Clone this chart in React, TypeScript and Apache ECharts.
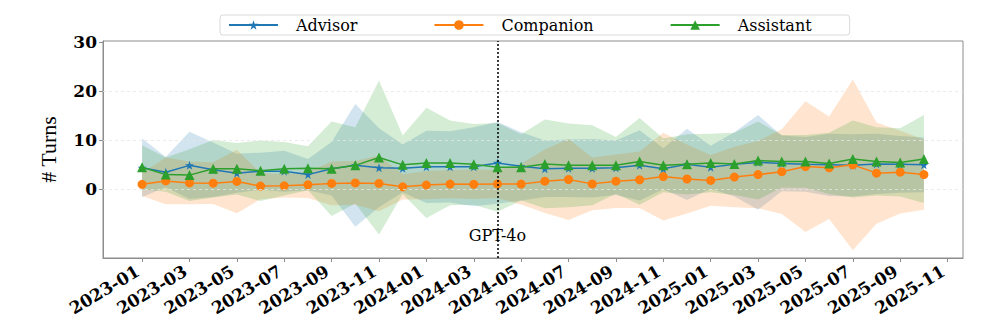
import React, { useEffect, useRef } from "react";
import * as echarts from "echarts";

// Monthly data points (index 0 = 2023-01 ... index 33 = 2025-10)
const months = [
  "2023-01", "2023-02", "2023-03", "2023-04", "2023-05", "2023-06", "2023-07", "2023-08", "2023-09", "2023-10", "2023-11", "2023-12",
  "2024-01", "2024-02", "2024-03", "2024-04", "2024-05", "2024-06", "2024-07", "2024-08", "2024-09", "2024-10", "2024-11", "2024-12",
  "2025-01", "2025-02", "2025-03", "2025-04", "2025-05", "2025-06", "2025-07", "2025-08", "2025-09", "2025-10",
];

const tickLabels = [
  "2023-01", "2023-03", "2023-05", "2023-07", "2023-09", "2023-11",
  "2024-01", "2024-03", "2024-05", "2024-07", "2024-09", "2024-11",
  "2025-01", "2025-03", "2025-05", "2025-07", "2025-09", "2025-11",
];

const yTicks = [0, 10, 20, 30];

const advisorMean = [4.3, 3.4, 4.8, 3.9, 3.2, 3.6, 3.6, 2.9, 4.1, 4.8, 4.3, 4.2, 4.5, 4.5, 4.5, 5.3, 4.6, 4.1, 4.2, 4.2, 4.3, 4.8, 4.1, 5.0, 4.4, 5.0, 5.4, 5.2, 5.0, 4.9, 4.8, 5.1, 5.0, 4.9];
const advisorStd = [6.0, 3.1, 6.9, 5.6, 4.0, 3.8, 4.2, 3.2, 5.5, 12.6, 8.1, 4.9, 7.4, 7.3, 8.1, 8.4, 7.0, 5.8, 5.9, 6.0, 5.6, 7.2, 4.2, 7.3, 4.4, 6.6, 9.7, 5.7, 5.6, 6.4, 6.4, 6.2, 5.8, 5.6];

const companionMean = [0.9, 1.6, 1.2, 1.15, 1.5, 0.55, 0.6, 0.8, 1.1, 1.2, 1.1, 0.4, 0.75, 0.95, 0.9, 1.0, 0.95, 1.55, 1.9, 1.0, 1.55, 1.85, 2.5, 2.0, 1.7, 2.4, 2.9, 3.5, 4.55, 4.3, 4.9, 3.2, 3.4, 2.9];
const companionStd = [2.4, 4.8, 4.4, 4.3, 6.5, 2.7, 2.4, 2.7, 4.5, 4.5, 5.7, 2.6, 2.9, 2.9, 3.0, 2.9, 4.2, 6.5, 8.3, 5.4, 5.5, 5.8, 9.0, 7.1, 5.2, 6.2, 6.9, 8.7, 13.4, 10.5, 17.5, 10.4, 8.5, 7.2];

const assistantMean = [4.4, 2.9, 2.8, 4.1, 4.1, 3.7, 4.1, 4.2, 4.1, 4.8, 6.4, 4.9, 5.3, 5.3, 5.0, 4.4, 4.4, 5.1, 4.8, 4.8, 4.8, 5.6, 4.8, 5.0, 5.3, 5.1, 5.8, 5.6, 5.6, 5.2, 6.1, 5.6, 5.4, 6.1];
const assistantStd = [4.5, 3.5, 5.3, 5.9, 5.3, 6.2, 5.5, 4.5, 9.7, 7.8, 15.8, 6.0, 11.3, 8.7, 8.3, 9.1, 6.8, 9.1, 8.6, 8.2, 5.8, 8.9, 5.5, 6.2, 6.0, 6.4, 8.0, 5.4, 5.4, 6.3, 7.9, 7.0, 7.0, 9.0];

const eventMonth = "2024-04";
const eventLabel = "GPT-4o";

const seriesDefs = [
  { name: "Advisor", mean: advisorMean, std: advisorStd, color: "#1f77b4", symbol: "path://M50,0 L61.8,35.4 L100,35.4 L69.1,57.3 L80.9,93.5 L50,71.5 L19.1,93.5 L30.9,57.3 L0,35.4 L38.2,35.4 Z", size: 9 },
  { name: "Companion", mean: companionMean, std: companionStd, color: "#ff7f0e", symbol: "circle", size: 9 },
  { name: "Assistant", mean: assistantMean, std: assistantStd, color: "#2ca02c", symbol: "triangle", size: 10 },
];

const FONT = "DejaVu Serif";

export default function App() {
  const ref = useRef<HTMLDivElement>(null);

  useEffect(() => {
    if (!ref.current) return;
    const chart = echarts.init(ref.current, null, { renderer: "svg" });

    const series: any[] = [];
    seriesDefs.forEach((s, k) => {
      const rows = s.mean.map((m, i) => [i, m - s.std[i], m + s.std[i]]);
      series.push({
        name: s.name + "_band",
        type: "custom",
        data: rows,
        encode: { x: 0, y: [1, 2] },
        silent: true,
        z: 1,
        renderItem: (params: any, api: any) => {
          if (params.dataIndex !== 0) return null;
          const top = rows.map((r) => api.coord([r[0], r[2]]));
          const bot = rows.map((r) => api.coord([r[0], r[1]])).reverse();
          return {
            type: "polygon",
            shape: { points: top.concat(bot) },
            style: { fill: s.color, opacity: 0.2 },
            silent: true,
          };
        },
        ...(k === 0
          ? {
              markLine: {
                silent: true,
                symbol: "none",
                label: { show: false },
                lineStyle: { type: [3, 3], color: "#e6e6e6", width: 0.8 },
                data: [{ yAxis: 0 }, { yAxis: 10 }, { yAxis: 20 }],
              },
            }
          : {}),
      });
    });

    seriesDefs.forEach((s, k) => {
      series.push({
        name: s.name,
        type: "line",
        data: s.mean.map((m, i) => [i, m]),
        symbol: s.symbol,
        symbolSize: s.size,
        showAllSymbol: true,
        lineStyle: { color: s.color, width: 1.5 },
        itemStyle: { color: s.color },
        z: 3 + k,
        ...(k === seriesDefs.length - 1
          ? {
              markLine: {
                silent: true,
                symbol: "none",
                label: { show: false },
                lineStyle: { type: [2, 2], color: "#000", width: 1.5 },
                data: [{ xAxis: months.indexOf(eventMonth) }],
              },
              markPoint: {
                silent: true,
                symbol: "circle",
                symbolSize: 0,
                label: {
                  show: true,
                  position: "inside",
                  formatter: eventLabel,
                  fontFamily: FONT,
                  fontSize: 16,
                  fontWeight: 500,
                  color: "#000",
                },
                data: [{ coord: [months.indexOf(eventMonth), -9.5] }],
              },
            }
          : {}),
      });
    });

    const tickIdx = tickLabels.map((t) => {
      const [y, m] = t.split("-").map(Number);
      return (y - 2023) * 12 + (m - 1);
    });

    chart.setOption({
      animation: false,
      backgroundColor: "#fff",
      grid: {
        left: 103,
        right: 33,
        top: 41,
        bottom: 69,
        show: true,
        borderColor: "#8c8c8c",
        borderWidth: 1,
        backgroundColor: "transparent",
      },
      legend: {
        data: seriesDefs.map((s) => s.name),
        left: 220,
        top: 15,
        itemWidth: 49,
        itemHeight: 12,
        itemGap: 76,
        padding: [2, 38, 2, 8],
        borderColor: "#d9d9d9",
        borderWidth: 1,
        borderRadius: 3,
        textStyle: { fontFamily: FONT, fontSize: 16, color: "#000", padding: [0, 0, 0, 13] },
      },
      xAxis: {
        type: "value",
        min: -1.65,
        max: 34.65,
        splitLine: { show: false },
        axisLine: { show: true, onZero: false, lineStyle: { color: "#8c8c8c" } },
        axisTick: { show: true, customValues: tickIdx, length: 4, lineStyle: { color: "#8c8c8c" } },
        axisLabel: {
          customValues: tickIdx,
          formatter: (v: number) => {
            const j = tickIdx.indexOf(Math.round(v));
            return j >= 0 ? tickLabels[j] : "";
          },
          rotate: 31,
          margin: 9,
          padding: [0, 5, 0, 0],
          fontFamily: FONT,
          fontWeight: "bold",
          fontSize: 17,
          color: "#000",
        },
      },
      yAxis: {
        type: "value",
        min: -14.2,
        max: 30.3,
        name: "# Turns",
        nameLocation: "middle",
        nameGap: 44,
        nameRotate: 90,
        nameTextStyle: { fontFamily: "Liberation Serif", fontSize: 22, color: "#000" },
        splitLine: { show: false },
        axisLine: { show: true, onZero: false, lineStyle: { color: "#8c8c8c" } },
        axisTick: { show: true, customValues: yTicks, length: 4, lineStyle: { color: "#8c8c8c" } },
        axisLabel: {
          customValues: yTicks,
          margin: 6,
          fontFamily: FONT,
          fontWeight: "bold",
          fontSize: 17,
          color: "#000",
        },
      },
      series,
    });

    return () => chart.dispose();
  }, []);

  return (
    <div
      ref={ref}
      style={{ position: "absolute", left: 0, top: 0, width: 996, height: 327 }}
    />
  );
}
